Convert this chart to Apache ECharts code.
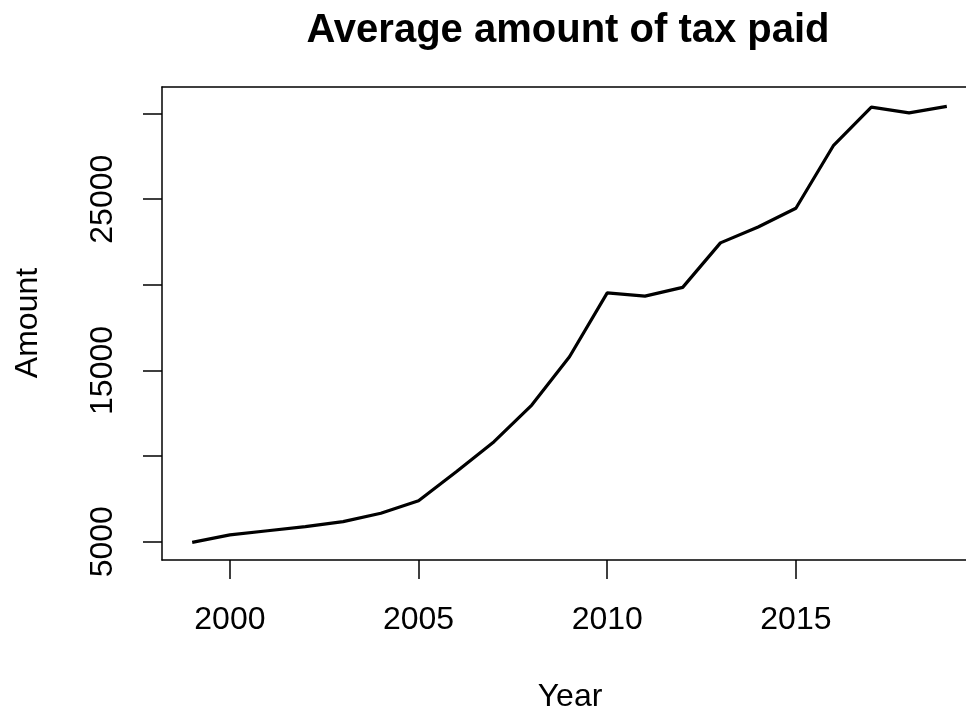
<!DOCTYPE html>
<html>
<head>
<meta charset="utf-8">
<script src="https://cdn.jsdelivr.net/npm/echarts@6/dist/echarts.min.js"></script>
<style>
html,body{margin:0;padding:0;background:#fff;}
#chart{width:966px;height:715px;}
</style>
</head>
<body>
<div id="chart"></div>
<script>
var years = [1999,2000,2001,2002,2003,2004,2005,2006,2007,2008,2009,2010,2011,2012,2013,2014,2015,2016,2017,2018,2019];
var amounts = [4960,5400,5640,5880,6170,6660,7390,9090,10840,12980,15800,19530,19340,19850,22450,23380,24470,28150,30380,30040,30420];
var xTickValues = [2000,2005,2010,2015];
var yTickValues = [5000,10000,15000,20000,25000,30000];
var yLabelValues = [5000,15000,25000];
var titleText = 'Average amount of tax paid';
var xName = 'Year';
var yName = 'Amount';

var FONT = '"Liberation Sans", Arial, sans-serif';
var chart = echarts.init(document.getElementById('chart'), null, {renderer:'canvas'});
var seriesData = years.map(function(y,i){ return [y, amounts[i]]; });
var plain = function(v){ return String(v); };

chart.setOption({
  animation:false,
  backgroundColor:'#fff',
  grid:{left:162, top:87, right:-11, bottom:155, show:false, containLabel:false, outerBoundsMode:'none'},
  xAxis:[{
    type:'value', min:1998.2, max:2019.8, position:'bottom',
    axisLine:{show:true, onZero:false, lineStyle:{color:'#000', width:1.5}},
    splitLine:{show:false},
    axisTick:{show:true, customValues:xTickValues, length:19, lineStyle:{color:'#000', width:1.5}},
    axisLabel:{show:true, customValues:xTickValues, formatter:plain, margin:44, color:'#000', fontSize:32, fontFamily:FONT}
  },{
    type:'value', min:1998.2, max:2019.8, position:'top',
    axisLine:{show:true, onZero:false, lineStyle:{color:'#000', width:1.5}},
    splitLine:{show:false}, axisTick:{show:false}, axisLabel:{show:false}
  }],
  yAxis:{
    type:'value', min:3932, max:31552,
    axisLine:{show:true, onZero:false, lineStyle:{color:'#000', width:1.5}},
    splitLine:{show:false},
    axisTick:{show:true, customValues:yTickValues, length:19, lineStyle:{color:'#000', width:1.5}},
    axisLabel:{show:true, customValues:yLabelValues, formatter:plain, rotate:90, margin:43, color:'#000', fontSize:32, fontFamily:FONT}
  },
  graphic:[
    {type:'text', x:568, y:31, style:{text:titleText, textAlign:'center', textVerticalAlign:'middle', fill:'#000', font:'bold 40px ' + FONT}},
    {type:'text', x:570, y:697, style:{text:xName, textAlign:'center', textVerticalAlign:'middle', fill:'#000', font:'32px ' + FONT}},
    {type:'text', x:28, y:323, rotation:Math.PI/2, style:{text:yName, textAlign:'center', textVerticalAlign:'middle', fill:'#000', font:'32px ' + FONT}}
  ],
  series:[{
    type:'line', xAxisIndex:0, data:seriesData, symbol:'none', smooth:false,
    lineStyle:{color:'#000', width:3.2}
  }]
});
</script>
</body>
</html>
